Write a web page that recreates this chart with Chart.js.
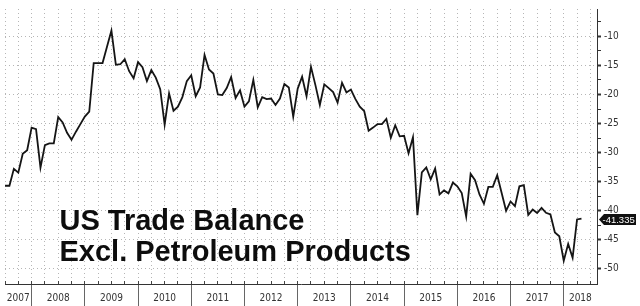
<!DOCTYPE html>
<html><head><meta charset="utf-8">
<script src="https://cdn.jsdelivr.net/npm/chart.js@4.4.1/dist/chart.umd.min.js"></script>
<style>
html,body{margin:0;padding:0;background:#fff;}
#wrap{position:relative;width:640px;height:306px;overflow:hidden;background:#fff;}
canvas{display:block;}
#title{position:absolute;left:59.5px;top:204.5px;font:bold 29px "Liberation Sans",Arial,sans-serif;line-height:31px;color:#0d0d0d;white-space:nowrap;pointer-events:none;}
</style></head><body>
<div id="wrap"><canvas id="c" width="640" height="306"></canvas>
<div id="title">US Trade Balance<br>Excl. Petroleum Products</div></div>
<script>
// ---- data ----
const firstMonthIndex = 6;   // months since Jan 2007 of the first plotted observation
const values = [
  -35.7, -35.7, -32.8, -33.45, -30.2, -29.6,
  -25.7, -25.95, -32.6, -28.7, -28.4, -28.4, -23.9, -24.8, -26.6, -27.8, -26.4, -25.1,
  -23.8, -22.95, -14.6, -14.6, -14.6, -11.8, -9.0, -14.9, -14.8, -13.95, -16.0, -17.2,
  -14.45, -15.3, -17.7, -15.8, -17.1, -19.1, -25.2, -19.8, -22.8, -22.1, -20.45, -17.7,
  -16.7, -20.3, -18.8, -13.2, -15.7, -16.4, -20.0, -20.1, -18.9, -17.0, -20.6, -19.3,
  -22.1, -21.2, -17.5, -22.2, -20.45, -20.8, -20.7, -21.8, -20.7, -18.2, -18.8, -23.8,
  -19.0, -16.95, -20.3, -15.25, -18.4, -21.8, -18.25, -18.9, -19.6, -21.4, -18.0, -19.65,
  -19.15, -20.75, -22.1, -22.85, -26.25, -25.7, -25.1, -25.1, -24.2, -27.45, -25.3, -27.2,
  -27.1, -30.1, -27.35, -40.75, -33.4, -32.55, -34.6, -32.75, -37.2, -36.5, -37.0, -35.15,
  -35.8, -36.95, -41.0, -33.65, -34.75, -37.2, -38.8, -35.9, -35.9, -33.9, -36.95, -40.0,
  -38.4, -39.2, -35.8, -35.6, -40.7, -39.8, -40.4, -39.5, -40.35, -40.65, -43.75, -44.4,
  -48.6, -45.7, -48.1, -41.5, -41.335
];
const years = ['2007','2008','2009','2010','2011','2012','2013','2014','2015','2016','2017','2018'];
const yMajorTicks = [-50, -45, -40, -35, -30, -25, -20, -15, -10];
const yMinorTicks = [-47.5, -42.5, -37.5, -32.5, -27.5, -22.5, -17.5, -12.5, -7.5];
const yMin = -52.6, yMax = -5.3;
const xMin = 6, xMax = 139.5;

// ---- derived ----
const monthNames = ['Jan','Feb','Mar','Apr','May','Jun','Jul','Aug','Sep','Oct','Nov','Dec'];
const categories = values.map((_, i) => {
  const m = firstMonthIndex + i;
  return monthNames[m % 12] + ' ' + years[Math.floor(m / 12)];
});
const points = values.map((v, i) => ({x: firstMonthIndex + i, y: v}));

const quarterTicks = [];
for (let m = xMin; m <= xMax; m += 3) quarterTicks.push(m);
const yearBounds = [];
for (let k = 1; k < years.length; k++) yearBounds.push(k * 12);
const yearLabelAt = {};
years.forEach((y, k) => {
  const a = Math.max(k * 12, xMin), b = Math.min((k + 1) * 12, xMax);
  yearLabelAt[(a + b) / 2] = y;
});
const yearTickVals = yearBounds.concat(Object.keys(yearLabelAt).map(Number)).sort((a, b) => a - b);
const yTickVals = yMajorTicks.concat(yMinorTicks).sort((a, b) => a - b);
const isMajorY = v => yMajorTicks.indexOf(v) >= 0;

const tickFont = {family: '"Liberation Sans Narrow","DejaVu Sans Condensed",Arial,sans-serif', size: 10};
const gridGray = '#b6b6b6';

const lastValueTag = {
  id: 'lastValueTag',
  afterDraw(chart) {
    const data = chart.data.datasets[0].data;
    const v = data[data.length - 1].y;
    const ys = chart.scales.y;
    const y = Math.round(ys.getPixelForValue(v)) + 0.5;
    const x0 = ys.left + 2;
    const ctx = chart.ctx;
    ctx.save();
    ctx.fillStyle = '#111';
    ctx.beginPath();
    ctx.moveTo(x0, y);
    ctx.lineTo(x0 + 5, y - 5.5);
    ctx.lineTo(x0 + 37, y - 5.5);
    ctx.lineTo(x0 + 37, y + 5.5);
    ctx.lineTo(x0 + 5, y + 5.5);
    ctx.closePath();
    ctx.fill();
    ctx.fillStyle = '#fff';
    ctx.font = '9.5px "Liberation Sans", Arial, sans-serif';
    ctx.textBaseline = 'middle';
    ctx.textAlign = 'left';
    ctx.fillText(v.toFixed(3), x0 + 3.5, y + 0.5);
    ctx.restore();
  }
};

new Chart(document.getElementById('c'), {
  type: 'line',
  data: {
    labels: categories,
    datasets: [{
      data: points,
      xAxisID: 'x',
      yAxisID: 'y',
      borderColor: '#151515',
      borderWidth: 1.8,
      pointRadius: 0,
      tension: 0,
      fill: false
    }]
  },
  options: {
    responsive: false,
    animation: false,
    devicePixelRatio: 1,
    layout: {padding: {left: 5, right: 0, top: 0, bottom: 0}},
    plugins: {legend: {display: false}, tooltip: {enabled: false}, title: {display: false}},
    scales: {
      x: {
        type: 'linear', position: 'bottom', weight: 0,
        min: xMin, max: xMax,
        afterBuildTicks: ax => { ax.ticks = quarterTicks.map(v => ({value: v})); },
        afterFit: ax => { ax.height = 0; },
        ticks: {display: false},
        grid: {color: gridGray, lineWidth: 1, drawTicks: true, tickLength: -3, tickColor: '#444', tickWidth: 1},
        border: {display: true, color: '#333', width: 1, dash: [1, 3]}
      },
      xYear: {
        type: 'linear', position: 'bottom', weight: 1,
        min: xMin, max: xMax,
        afterBuildTicks: ax => { ax.ticks = yearTickVals.map(v => ({value: v})); },
        afterFit: ax => { ax.height = 22; },
        ticks: {
          autoSkip: false, maxRotation: 0, minRotation: 0, padding: -14,
          color: '#333', font: tickFont,
          callback: v => yearLabelAt[v] || ''
        },
        grid: {
          drawOnChartArea: false, drawTicks: true, tickLength: 22,
          color: ctx => (ctx.tick && yearBounds.indexOf(ctx.tick.value) >= 0) ? '#666' : 'rgba(0,0,0,0)',
          lineWidth: 1
        },
        border: {display: false}
      },
      y: {
        type: 'linear', position: 'right',
        min: yMin, max: yMax,
        afterBuildTicks: ax => { ax.ticks = yTickVals.map(v => ({value: v})); },
        afterFit: ax => { ax.width = 43; },
        ticks: {
          autoSkip: false, padding: 3, color: '#333', font: tickFont,
          callback: v => isMajorY(v) ? String(v) : ''
        },
        grid: {
          drawOnChartArea: true, drawTicks: true, tickLength: 4,
          color: ctx => (ctx.tick && isMajorY(ctx.tick.value)) ? gridGray : 'rgba(0,0,0,0)',
          tickColor: '#333',
          tickWidth: ctx => (ctx.tick && isMajorY(ctx.tick.value)) ? 2 : 1,
          lineWidth: 1
        },
        border: {display: true, color: '#333', width: 1, dash: [1, 3]}
      }
    }
  },
  plugins: [lastValueTag]
});
</script>
</body></html>
